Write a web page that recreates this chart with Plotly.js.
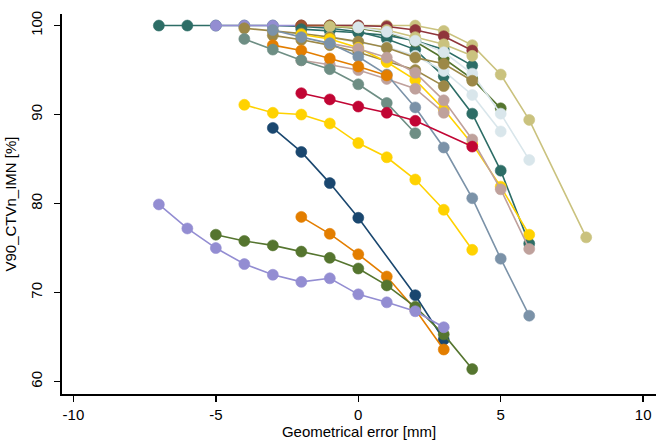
<!DOCTYPE html>
<html>
<head>
<meta charset="utf-8">
<script src="https://cdn.plot.ly/plotly-3.0.1.min.js"></script>
<style>html,body{margin:0;padding:0;background:#fff;}#chart{width:656px;height:441px;}</style>
</head>
<body>
<div id="chart"></div>
<script>
// Stata s2color palette
const colors = {
  navy: "#1a476f", maroon: "#90353b", fgreen: "#55752f", dkorange: "#e37e00",
  teal: "#6e8e84", cranberry: "#c10534", lavender: "#938dd2", khaki: "#cac27e",
  sienna: "#a0522d", emidblue: "#7b92a8", emerald: "#2d6d66", brown: "#9c8847",
  erose: "#bfa19c", gold: "#ffd200", bluishgray: "#d9e6eb"
};

// Series data (geometrical error [mm] -> V90 [%])
const emerald1_x = [-7,-6,-5,-4,-3,-2,-1,0,1,2,3,4,5,6];
const emerald1_y = [100,100,100,100,100,99.9,99.7,99.3,98.5,97.3,94.3,90.1,83.7,75.5];
const lavTop_x = [-5,-4,-3,-2,-1,0,1];
const lavTop_y = [100,100,100,100,100,100,99.9];
const khakiA_x = [-2,-1,0,1,2,3,4,5,6,8];
const khakiA_y = [100,100,100,100,100,99.4,97.8,94.5,89.4,76.2];
const maroon_x = [-2,-1,0,1,2,3,4];
const maroon_y = [100,100,100,99.9,99.5,98.8,97.2];
const sienna_x = [-2,-1,0,1];
const sienna_y = [100,100,99.7,99.3];
const greenTop_x = [-1,0,1,2,3,4,5];
const greenTop_y = [99.9,99.7,99.2,98.2,96.3,94.0,90.7];
const emerald2_x = [-2,-1,0,1,2,3,4];
const emerald2_y = [99.6,99.4,99.2,98.9,98.3,97.3,95.5];
const khakiB_x = [-1,0,1,2,3,4];
const khakiB_y = [99.9,99.8,99.5,98.7,97.9,96.6];
const bluishA_x = [-1,0,1,2,3,4,5];
const bluishA_y = [98.7,98.1,97.6,96.6,94.9,92.2,88.1];
const bluishB_x = [0,1,2,3,4,5,6];
const bluishB_y = [99.8,99.3,98.3,97.0,94.6,90.1,84.9];
const brownA_x = [-4,-3,-2,-1,0,1,2,3,4];
const brownA_y = [99.7,99.4,99.1,98.7,98.2,97.5,96.4,95.7,93.8];
const brownB_x = [-3,-2,-1,0,1,2,3];
const brownB_y = [98.9,98.4,97.8,97.0,96.0,95.0,93.2];
const goldTop_x = [-2,-1,0,1,2,3,4,5,6];
const goldTop_y = [99.0,98.5,97.5,95.9,93.9,90.6,86.7,81.9,76.5];
const eroseA_x = [-1,0,1,2,3,4,5,6];
const eroseA_y = [98.0,97.4,96.4,94.7,91.6,87.2,81.6,74.9];
const eroseB_x = [-2,-1,0,1,2,3];
const eroseB_y = [96.1,95.6,95.0,94.0,92.9,90.2];
const emidblue_x = [-3,-2,-1,0,1,2,3,4,5,6];
const emidblue_y = [99.5,98.7,98.0,96.5,94.5,90.8,86.3,80.6,73.8,67.4];
const orangeTop_x = [-3,-2,-1,0,1];
const orangeTop_y = [97.8,97.2,96.3,95.4,94.4];
const teal_x = [-4,-3,-2,-1,0,1,2];
const teal_y = [98.5,97.3,96.1,95.1,93.4,91.3,87.9];
const cranberry_x = [-2,-1,0,1,2,4];
const cranberry_y = [92.4,91.7,90.9,90.2,89.3,86.4];
const goldLow_x = [-4,-3,-2,-1,0,1,2,3,4];
const goldLow_y = [91.1,90.2,90.0,89.0,86.8,85.2,82.7,79.3,74.8];
const navy_x = [-3,-2,-1,0,2,3];
const navy_y = [88.5,85.8,82.3,78.4,69.7,64.7];
const orangeLow_x = [-2,-1,0,1,2,3];
const orangeLow_y = [78.5,76.6,74.3,71.8,68.1,63.6];
const greenLow_x = [-5,-4,-3,-2,-1,0,1,2,3,4];
const greenLow_y = [76.5,75.8,75.3,74.6,73.9,72.7,70.8,68.4,65.3,61.4];
const lavLow_x = [-7,-6,-5,-4,-3,-2,-1,0,1,2,3];
const lavLow_y = [79.9,77.2,75.0,73.2,72.0,71.2,71.6,69.8,68.9,67.9,66.1];

const xTicks = [-10,-5,0,5,10];
const yTicks = [60,70,80,90,100];

const series = [
  [emerald1_x, emerald1_y, colors.emerald],
  [lavTop_x, lavTop_y, colors.lavender],
  [khakiA_x, khakiA_y, colors.khaki],
  [maroon_x, maroon_y, colors.maroon],
  [sienna_x, sienna_y, colors.sienna],
  [greenTop_x, greenTop_y, colors.fgreen],
  [emerald2_x, emerald2_y, colors.emerald],
  [khakiB_x, khakiB_y, colors.khaki],
  [bluishA_x, bluishA_y, colors.bluishgray],
  [bluishB_x, bluishB_y, colors.bluishgray],
  [brownA_x, brownA_y, colors.brown],
  [brownB_x, brownB_y, colors.brown],
  [goldTop_x, goldTop_y, colors.gold],
  [eroseA_x, eroseA_y, colors.erose],
  [eroseB_x, eroseB_y, colors.erose],
  [emidblue_x, emidblue_y, colors.emidblue],
  [orangeTop_x, orangeTop_y, colors.dkorange],
  [teal_x, teal_y, colors.teal],
  [cranberry_x, cranberry_y, colors.cranberry],
  [goldLow_x, goldLow_y, colors.gold],
  [navy_x, navy_y, colors.navy],
  [orangeLow_x, orangeLow_y, colors.dkorange],
  [greenLow_x, greenLow_y, colors.fgreen],
  [lavLow_x, lavLow_y, colors.lavender]
];

const traces = series.map(s => ({
  x: s[0], y: s[1], type: "scatter", mode: "lines+markers",
  line: {color: s[2], width: 1.6},
  marker: {color: s[2], size: 11, line: {width: 0.6, color: s[2]}},
  hoverinfo: "x+y"
}));

const fontFam = "Liberation Sans, Arial, sans-serif";
const layout = {
  width: 656, height: 441,
  margin: {l: 62, r: 0, t: 14, b: 47},
  paper_bgcolor: "#ffffff", plot_bgcolor: "#ffffff",
  showlegend: false,
  font: {family: fontFam, size: 15, color: "#000"},
  xaxis: {
    range: [-10.4, 10.45], tickvals: xTicks, ticktext: xTicks.map(String),
    showgrid: false, zeroline: false, showline: true, linecolor: "#000", linewidth: 2,
    ticks: "outside", ticklen: 6, tickwidth: 1.5, tickcolor: "#000",
    tickfont: {family: fontFam, size: 15},
    title: {text: "Geometrical error [mm]", font: {family: fontFam, size: 15}, standoff: 2}
  },
  yaxis: {
    range: [58.6, 101.3], tickvals: yTicks, ticktext: yTicks.map(String),
    showgrid: false, zeroline: false, showline: true, linecolor: "#000", linewidth: 2,
    ticks: "outside", ticklen: 6, tickwidth: 1.5, tickcolor: "#000", tickangle: -90,
    ticklabelstandoff: 6,
    tickfont: {family: fontFam, size: 15},
    title: {text: "V90_CTVn_IMN [%]", font: {family: fontFam, size: 15}, standoff: 8}
  }
};

Plotly.newPlot("chart", traces, layout, {displayModeBar: false, staticPlot: true});
</script>
</body>
</html>
